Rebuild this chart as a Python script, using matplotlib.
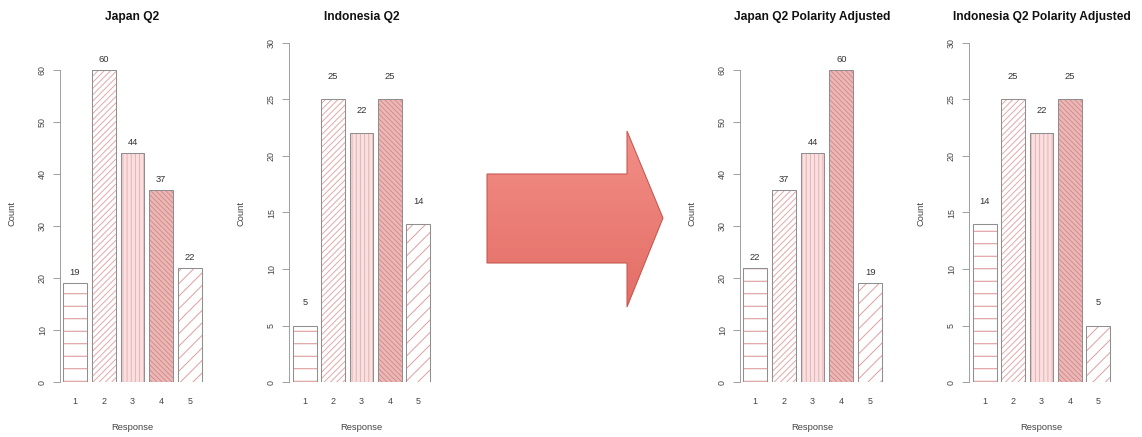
import numpy as np
import matplotlib
matplotlib.use('Agg')
import matplotlib.pyplot as plt
from matplotlib.patches import Polygon

plt.rcParams['font.family'] = ['Liberation Sans', 'DejaVu Sans']
plt.rcParams['hatch.linewidth'] = 0.9

W, H, DPI = 1142, 437, 75

# survey counts per response level
responses = ['1', '2', '3', '4', '5']
japan_q2 = [19, 60, 44, 37, 22]
indonesia_q2 = [5, 25, 22, 25, 14]
japan_q2_adj = [22, 37, 44, 60, 19]
indonesia_q2_adj = [14, 25, 22, 25, 5]

titles = ['Japan Q2', 'Indonesia Q2',
          'Japan Q2 Polarity Adjusted', 'Indonesia Q2 Polarity Adjusted']
series = [japan_q2, indonesia_q2, japan_q2_adj, indonesia_q2_adj]
y_max = [60, 30, 60, 30]
y_step = [10, 5, 10, 5]

# barplot-style shading: one hatch per response level
hatches = ['-', '////', '|||', '\\\\\\\\\\', '//']
fills = ['white', 'white', '#f8e0e0', '#ebb8b8', 'white']
hatch_cols = ['#d98c8c', '#e2a6a6', '#e8b0b0', '#d58a8a', '#df9c9c']

# panel geometry in pixels: y-axis line, first bar left, last bar right
panels = [(60, 63, 202), (289, 293, 430), (740, 743, 882), (969, 973, 1110)]
zero_px = 382
top_px = [70, 43, 70, 43]

fig = plt.figure(figsize=(W / DPI, H / DPI), dpi=DPI)
fig.patch.set_facecolor('white')


def fx(px):
    return px / W


def fy(py):
    return 1 - py / H


# bar positions as in R barplot(): width 1, space 0.2
width = 1.0
space = 0.2
lefts = np.array([space + i * (width + space) for i in range(len(responses))])
centers = lefts + width / 2

for k, vals in enumerate(series):
    axis_x, b0, b1 = panels[k]
    s = (b1 - b0) / (lefts[-1] + width - lefts[0])
    margin = (b0 - axis_x) / s
    xlo = lefts[0] - margin
    xhi = lefts[-1] + width + margin
    ax_w = (xhi - xlo) * s
    ax = fig.add_axes([fx(axis_x), fy(zero_px), ax_w / W, (zero_px - top_px[k]) / H])
    ax.set_xlim(xlo, xhi)
    ax.set_ylim(0, y_max[k])

    for i, v in enumerate(vals):
        # hatch layer, coloured via edgecolor
        ax.bar(centers[i], v, width=width, color=fills[i], edgecolor=hatch_cols[i],
               hatch=hatches[i], linewidth=0, zorder=2)
        # outline
        ax.bar(centers[i], v, width=width, color='none', edgecolor='#8f8f8f',
               linewidth=1.0, zorder=3)
        ax.text(centers[i], v + 2, str(v), ha='center', va='center',
                fontsize=9, color='#333333')

    for sp in ['top', 'right', 'bottom']:
        ax.spines[sp].set_visible(False)
    ax.spines['left'].set_color('#8f8f8f')
    ax.spines['left'].set_bounds(0, y_max[k])
    ax.set_yticks(np.arange(0, y_max[k] + 1, y_step[k]))
    ax.tick_params(axis='y', direction='out', length=6.5, color='#8f8f8f',
                   labelsize=8.5, labelcolor='#444444', pad=6)
    plt.setp(ax.get_yticklabels(), rotation=90, va='center')
    ax.set_xticks(centers, responses)
    ax.tick_params(axis='x', length=0, labelsize=8.5, labelcolor='#444444', pad=14)
    ax.patch.set_visible(False)

    mid = (b0 + b1) / 2
    fig.text(fx(mid), fy(17), titles[k], ha='center', va='center',
             fontsize=11.5, fontweight='bold', color='#111111')
    fig.text(fx(mid), fy(427), 'Response', ha='center', va='center',
             fontsize=9, color='#444444')
    fig.text(fx(axis_x - 48), fy(213), 'Count', ha='center', va='center',
             rotation=90, fontsize=9, color='#444444')

# block arrow between the two pairs of charts
ov = fig.add_axes([0, 0, 1, 1], zorder=-1)
ov.set_xlim(0, W)
ov.set_ylim(H, 0)
ov.axis('off')
arrow_pts = [(487, 174), (627, 174), (627, 131), (663, 218),
             (627, 307), (627, 263), (487, 263)]
poly = Polygon(arrow_pts, closed=True, facecolor='none',
               edgecolor='#c4554e', linewidth=1.0, zorder=3)
ov.add_patch(poly)
grad = np.linspace(0, 1, 256).reshape(-1, 1)
top_c = np.array([0.95, 0.56, 0.53])
bot_c = np.array([0.89, 0.43, 0.40])
img = top_c + (bot_c - top_c) * grad[..., None]
im = ov.imshow(img, extent=[487, 663, 307, 131], aspect='auto', zorder=2,
               interpolation='bilinear')
im.set_clip_path(poly)
ov.set_xlim(0, W)
ov.set_ylim(H, 0)

fig.savefig('out.png', dpi=DPI, facecolor='white')
